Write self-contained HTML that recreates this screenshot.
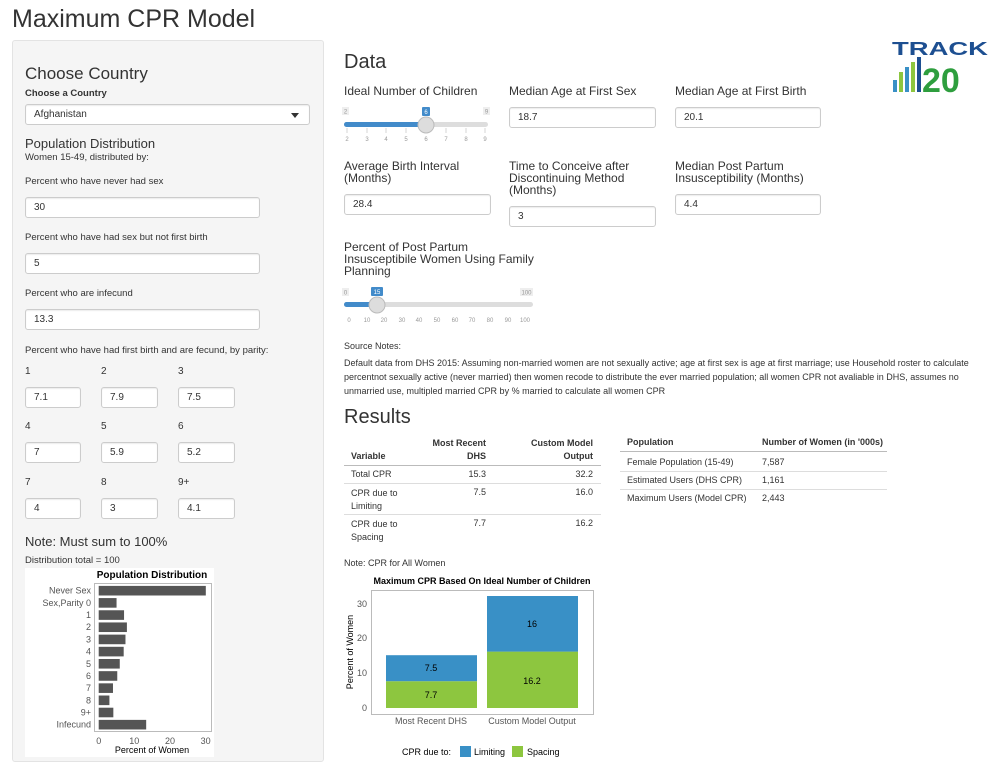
<!DOCTYPE html>
<html><head><meta charset="utf-8"><style>
body{margin:0;width:1000px;height:776px;background:#fff;font-family:"Liberation Sans",Arial,sans-serif;color:#333;position:relative;overflow:hidden}
.a{position:absolute;white-space:nowrap}
.t{font-size:10px}
.inp{position:absolute;border:1px solid #ccc;border-radius:3px;background:#fff;font-size:10px;line-height:19px;padding-left:8px;box-sizing:border-box;height:21px;box-shadow:inset 0 1px 1px rgba(0,0,0,.075)}
.lbl{font-size:12px;line-height:12px}
.hr{position:absolute;height:1px;background:#ddd}
</style></head><body>
<div class="a" style="left:12px;top:5px;font-size:25px;color:#333">Maximum CPR Model</div>
<div class="a" style="left:12px;top:40px;width:312px;height:722px;background:#f5f5f5;border:1px solid #e3e3e3;box-sizing:border-box;border-radius:3px"></div>
<div class="a" style="left:25px;top:64px;font-size:17px">Choose Country</div>
<div class="a t" style="left:25px;top:88px;font-weight:bold;font-size:9.5px">Choose a Country</div>
<div class="inp" style="left:25px;top:104px;width:285px">Afghanistan<span style="position:absolute;right:10px;top:8px;border:4px solid transparent;border-top:5px solid #333;border-bottom:0"></span></div>
<div class="a" style="left:25px;top:136px;font-size:13px">Population Distribution</div>
<div class="a t" style="left:25px;top:152px;font-size:9.5px">Women 15-49, distributed by:</div>
<div class="a t" style="left:25px;top:176px;font-size:9.5px">Percent who have never had sex</div>
<div class="inp" style="left:25px;top:197px;width:235px">30</div>
<div class="a t" style="left:25px;top:232px;font-size:9.5px">Percent who have had sex but not first birth</div>
<div class="inp" style="left:25px;top:253px;width:235px">5</div>
<div class="a t" style="left:25px;top:288px;font-size:9.5px">Percent who are infecund</div>
<div class="inp" style="left:25px;top:309px;width:235px">13.3</div>
<div class="a t" style="left:25px;top:345px;font-size:9.5px">Percent who have had first birth and are fecund, by parity:</div>
<div class="a t" style="left:25px;top:366px">1</div><div class="a t" style="left:101px;top:366px">2</div><div class="a t" style="left:178px;top:366px">3</div>
<div class="inp" style="left:25px;top:387px;width:56px">7.1</div><div class="inp" style="left:101px;top:387px;width:57px">7.9</div><div class="inp" style="left:178px;top:387px;width:57px">7.5</div>
<div class="a t" style="left:25px;top:421px">4</div><div class="a t" style="left:101px;top:421px">5</div><div class="a t" style="left:178px;top:421px">6</div>
<div class="inp" style="left:25px;top:442px;width:56px">7</div><div class="inp" style="left:101px;top:442px;width:57px">5.9</div><div class="inp" style="left:178px;top:442px;width:57px">5.2</div>
<div class="a t" style="left:25px;top:477px">7</div><div class="a t" style="left:101px;top:477px">8</div><div class="a t" style="left:178px;top:477px">9+</div>
<div class="inp" style="left:25px;top:498px;width:56px">4</div><div class="inp" style="left:101px;top:498px;width:57px">3</div><div class="inp" style="left:178px;top:498px;width:57px">4.1</div>
<div class="a" style="left:25px;top:534px;font-size:13px">Note: Must sum to 100%</div>
<div class="a t" style="left:25px;top:555px;font-size:9.5px">Distribution total = 100</div>
<svg class="a" style="left:25px;top:568px" width="189" height="189" font-family="Liberation Sans,Arial,sans-serif">
<rect width="189" height="189" fill="#fff"/>
<text x="127" y="10" font-size="10" font-weight="bold" text-anchor="middle" fill="#000">Population Distribution</text>
<rect x="69.5" y="15.5" width="117" height="148" fill="#fff" stroke="#bbb"/>
<g fill="#555" id="bars"></g>
<g font-size="9" fill="#555" text-anchor="end" id="labs"></g>
<g font-size="9" fill="#555" text-anchor="middle"><text x="73.7" y="176">0</text><text x="109.3" y="176">10</text><text x="145" y="176">20</text><text x="180.6" y="176">30</text></g>
<text x="127" y="185" font-size="9" text-anchor="middle" fill="#000">Percent of Women</text>
</svg>
<script>
(function(){var v=[30,5,7.1,7.9,7.5,7,5.9,5.2,4,3,4.1,13.3],n=["Never Sex","Sex,Parity 0","1","2","3","4","5","6","7","8","9+","Infecund"],b="",l="";
for(var i=0;i<12;i++){var c=22.7+i*12.18;b+='<rect x="73.7" y="'+(c-4.8)+'" width="'+(v[i]*3.57)+'" height="9.6"/>';l+='<text x="66" y="'+(c+3)+'">'+n[i]+'</text>';}
document.getElementById("bars").innerHTML=b;document.getElementById("labs").innerHTML=l;})();
</script>

<div class="a" style="left:344px;top:51px;font-size:20px">Data</div>
<svg class="a" style="left:892px;top:40px" width="96" height="56" font-family="Liberation Sans,Arial,sans-serif">
<text x="0" y="15" font-size="18" font-weight="900" fill="#1d4f91" textLength="96" lengthAdjust="spacingAndGlyphs">TRACK</text>
<rect x="1" y="40" width="4" height="12" fill="#3990c6"/><rect x="7" y="32" width="4" height="20" fill="#8dc63f"/><rect x="13" y="27" width="4" height="25" fill="#3990c6"/><rect x="19" y="22" width="4" height="30" fill="#8dc63f"/><rect x="25" y="17" width="4" height="35" fill="#1d4f91"/>
<text x="30" y="52" font-size="34" font-weight="900" fill="#2e9e3e">20</text>
</svg>
<div class="a lbl" style="left:344px;top:85px">Ideal Number of Children</div>
<div class="a lbl" style="left:509px;top:85px">Median Age at First Sex</div>
<div class="a lbl" style="left:675px;top:85px">Median Age at First Birth</div>
<div class="inp" style="left:509px;top:107px;width:147px">18.7</div>
<div class="inp" style="left:675px;top:107px;width:146px">20.1</div>
<div class="a lbl" style="left:344px;top:160px;white-space:normal;width:140px">Average Birth Interval (Months)</div>
<div class="a lbl" style="left:509px;top:160px;white-space:normal;width:140px">Time to Conceive after Discontinuing Method (Months)</div>
<div class="a lbl" style="left:675px;top:160px;white-space:normal;width:140px">Median Post Partum Insusceptibility (Months)</div>
<div class="inp" style="left:344px;top:194px;width:147px">28.4</div>
<div class="inp" style="left:509px;top:206px;width:147px">3</div>
<div class="inp" style="left:675px;top:194px;width:146px">4.4</div>
<div class="a lbl" style="left:344px;top:241px;white-space:normal;width:190px">Percent of Post Partum Insusceptibile Women Using Family Planning</div>
<svg class="a" style="left:340px;top:104px" width="155" height="40" font-family="Liberation Sans,Arial,sans-serif" font-size="6" fill="#999">
<rect x="2" y="3" width="7" height="8" fill="#eee"/><text x="5.5" y="9.5" text-anchor="middle">2</text>
<rect x="143" y="3" width="7" height="8" fill="#eee"/><text x="146.5" y="9.5" text-anchor="middle">9</text>
<rect x="82" y="3" width="8" height="9" rx="1" fill="#428bca"/><text x="86" y="10" text-anchor="middle" fill="#fff">6</text>
<rect x="4" y="18" width="144" height="5" rx="2.5" fill="#ddd"/><rect x="4" y="18" width="82" height="5" rx="2.5" fill="#428bca"/>
<g stroke="#bbb" stroke-width="0.6"><path d="M7 24v5M27 24v5M46 24v5M66 24v5M86 24v5M106 24v5M126 24v5M145 24v5"/></g>
<g text-anchor="middle"><text x="7" y="37">2</text><text x="27" y="37">3</text><text x="46" y="37">4</text><text x="66" y="37">5</text><text x="86" y="37">6</text><text x="106" y="37">7</text><text x="126" y="37">8</text><text x="145" y="37">9</text></g>
<circle cx="86" cy="21" r="8" fill="#ddd" stroke="#bbb"/>
</svg>
<svg class="a" style="left:340px;top:285px" width="200" height="40" font-family="Liberation Sans,Arial,sans-serif" font-size="6" fill="#999">
<rect x="2" y="3" width="7" height="8" fill="#eee"/><text x="5.5" y="9.5" text-anchor="middle">0</text>
<rect x="180" y="3" width="13" height="8" fill="#eee"/><text x="186.5" y="9.5" text-anchor="middle">100</text>
<rect x="31" y="2" width="12" height="9" rx="1" fill="#428bca"/><text x="37" y="9" text-anchor="middle" fill="#fff">15</text>
<rect x="4" y="17" width="189" height="5" rx="2.5" fill="#ddd"/><rect x="4" y="17" width="33" height="5" rx="2.5" fill="#428bca"/>
<g text-anchor="middle"><text x="9" y="37">0</text><text x="27" y="37">10</text><text x="44" y="37">20</text><text x="62" y="37">30</text><text x="79" y="37">40</text><text x="97" y="37">50</text><text x="115" y="37">60</text><text x="132" y="37">70</text><text x="150" y="37">80</text><text x="168" y="37">90</text><text x="185" y="37">100</text></g>
<circle cx="37" cy="20" r="8" fill="#ddd" stroke="#bbb"/>
</svg>
<div class="a" style="left:344px;top:341px;font-size:9px">Source Notes:</div>
<div class="a" style="left:344px;top:356px;font-size:9px;line-height:14px;white-space:normal;width:650px">Default data from DHS 2015: Assuming non-married women are not sexually active; age at first sex is age at first marriage; use Household roster to calculate percentnot sexually active (never married) then women recode to distribute the ever married population; all women CPR not avaliable in DHS, assumes no unmarried use, multipled married CPR by % married to calculate all women CPR</div>
<div class="a" style="left:344px;top:406px;font-size:20px">Results</div>
<div style="font-size:9px;color:#333">
<div class="a" style="left:351px;top:451px;font-weight:bold">Variable</div>
<div class="a" style="right:514px;top:438px;font-weight:bold;text-align:right">Most Recent<br><span style="line-height:16px">DHS</span></div>
<div class="a" style="right:407px;top:438px;font-weight:bold;text-align:right">Custom Model<br><span style="line-height:16px">Output</span></div>
<div class="hr" style="left:344px;top:465px;width:257px;background:#bbb"></div>
<div class="a" style="left:351px;top:469px">Total CPR</div><div class="a" style="right:514px;top:469px">15.3</div><div class="a" style="right:407px;top:469px">32.2</div>
<div class="hr" style="left:344px;top:483px;width:257px"></div>
<div class="a" style="left:351px;top:487px;line-height:13px">CPR due to<br>Limiting</div><div class="a" style="right:514px;top:487px">7.5</div><div class="a" style="right:407px;top:487px">16.0</div>
<div class="hr" style="left:344px;top:514px;width:257px"></div>
<div class="a" style="left:351px;top:518px;line-height:13px">CPR due to<br>Spacing</div><div class="a" style="right:514px;top:518px">7.7</div><div class="a" style="right:407px;top:518px">16.2</div>
<div class="a" style="left:627px;top:437px;font-weight:bold">Population</div><div class="a" style="left:762px;top:437px;font-weight:bold">Number of Women (in '000s)</div>
<div class="hr" style="left:620px;top:451px;width:267px;background:#bbb"></div>
<div class="a" style="left:627px;top:457px">Female Population (15-49)</div><div class="a" style="left:762px;top:457px">7,587</div>
<div class="hr" style="left:620px;top:471px;width:267px"></div>
<div class="a" style="left:627px;top:475px">Estimated Users (DHS CPR)</div><div class="a" style="left:762px;top:475px">1,161</div>
<div class="hr" style="left:620px;top:489px;width:267px"></div>
<div class="a" style="left:627px;top:493px">Maximum Users (Model CPR)</div><div class="a" style="left:762px;top:493px">2,443</div>
<div class="a" style="left:344px;top:558px">Note: CPR for All Women</div>
</div>
<svg class="a" style="left:330px;top:570px" width="300" height="195" font-family="Liberation Sans,Arial,sans-serif">
<text x="152" y="14" font-size="9" font-weight="bold" text-anchor="middle" fill="#000">Maximum CPR Based On Ideal Number of Children</text>
<rect x="41.5" y="20.5" width="222" height="124" fill="#fff" stroke="#bbb"/>
<rect x="56" y="111.2" width="91" height="26.8" fill="#8dc63f"/><rect x="56" y="85.2" width="91" height="26" fill="#3990c6"/>
<rect x="157" y="81.6" width="91" height="56.4" fill="#8dc63f"/><rect x="157" y="26" width="91" height="55.6" fill="#3990c6"/>
<g font-size="9" text-anchor="middle" fill="#000"><text x="101" y="101">7.5</text><text x="101" y="128">7.7</text><text x="202" y="57">16</text><text x="202" y="114">16.2</text></g>
<g font-size="9" text-anchor="end" fill="#555"><text x="37" y="141">0</text><text x="37" y="106">10</text><text x="37" y="71">20</text><text x="37" y="37">30</text></g>
<text transform="translate(23,82) rotate(-90)" font-size="9" text-anchor="middle" fill="#000">Percent of Women</text>
<g font-size="9" text-anchor="middle" fill="#555"><text x="101" y="154">Most Recent DHS</text><text x="202" y="154">Custom Model Output</text></g>
<text x="72" y="185" font-size="9" fill="#000">CPR due to:</text>
<rect x="130" y="176" width="11" height="11" fill="#3990c6"/><text x="144" y="185" font-size="9" fill="#000">Limiting</text>
<rect x="182" y="176" width="11" height="11" fill="#8dc63f"/><text x="197" y="185" font-size="9" fill="#000">Spacing</text>
</svg>
</body></html>
